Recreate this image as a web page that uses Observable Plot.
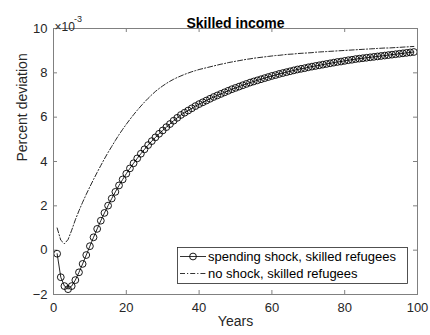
<!DOCTYPE html>
<html><head><meta charset="utf-8">
<script src="https://cdn.jsdelivr.net/npm/d3@7"></script>
<script src="https://cdn.jsdelivr.net/npm/@observablehq/plot@0.6"></script>
<style>body{margin:0;background:#fff} svg{display:block}</style>
</head><body><div id="chart"></div>
<script>
const title = "Skilled income";
const xLabel = "Years";
const yLabel = "Percent deviation";
const exponentBase = "\u00d710";
const exponentPower = "-3";
const xTicks = [0, 20, 40, 60, 80, 100];
const yTicks = [-2, 0, 2, 4, 6, 8, 10];
const seriesNames = ["spending shock, skilled refugees", "no shock, skilled refugees"];
const years = [1,2,3,4,5,6,7,8,9,10,11,12,13,14,15,16,17,18,19,20,21,22,23,24,25,26,27,28,29,30,31,32,33,34,35,36,37,38,39,40,41,42,43,44,45,46,47,48,49,50,51,52,53,54,55,56,57,58,59,60,61,62,63,64,65,66,67,68,69,70,71,72,73,74,75,76,77,78,79,80,81,82,83,84,85,86,87,88,89,90,91,92,93,94,95,96,97,98,99];
const spendingShock = [-0.16,-1.22,-1.62,-1.76,-1.62,-1.35,-1.00,-0.62,-0.22,0.18,0.58,0.96,1.33,1.68,2.01,2.33,2.63,2.92,3.19,3.45,3.69,3.92,4.14,4.35,4.55,4.74,4.92,5.09,5.25,5.40,5.55,5.69,5.84,5.97,6.10,6.20,6.30,6.40,6.50,6.59,6.67,6.75,6.83,6.91,6.98,7.05,7.12,7.19,7.26,7.32,7.38,7.44,7.50,7.56,7.61,7.66,7.71,7.76,7.81,7.86,7.90,7.95,7.99,8.03,8.07,8.11,8.15,8.18,8.21,8.25,8.28,8.31,8.34,8.37,8.40,8.43,8.46,8.49,8.51,8.54,8.57,8.59,8.62,8.64,8.66,8.68,8.70,8.72,8.74,8.76,8.78,8.80,8.82,8.84,8.86,8.88,8.90,8.92,8.94];
const noShock = [1.00,0.45,0.29,0.48,0.90,1.37,1.78,2.16,2.52,2.86,3.19,3.51,3.82,4.12,4.41,4.68,4.95,5.21,5.45,5.68,5.90,6.11,6.31,6.50,6.68,6.85,7.01,7.16,7.29,7.41,7.52,7.62,7.71,7.79,7.86,7.93,7.99,8.05,8.10,8.15,8.19,8.23,8.27,8.31,8.35,8.39,8.42,8.46,8.49,8.52,8.55,8.58,8.61,8.63,8.66,8.68,8.70,8.72,8.74,8.76,8.78,8.79,8.81,8.83,8.84,8.85,8.87,8.88,8.89,8.90,8.91,8.93,8.94,8.95,8.96,8.97,8.98,8.99,9.00,9.01,9.02,9.03,9.04,9.05,9.06,9.07,9.08,9.09,9.10,9.11,9.12,9.12,9.13,9.14,9.15,9.16,9.17,9.18,9.19];

const shockData = years.map((t, i) => ({t, v: spendingShock[i]}));
const noShockData = years.map((t, i) => ({t, v: noShock[i]}));

const FONT = "'Liberation Sans', Arial, Helvetica, sans-serif";
const TXT = "#262626";
const AX = "#808080";
const DASH = "5,2,1.2,2";
const W = 430, H = 335, ML = 53, MR = 13, MT = 28, MB = 41;
const FW = W - ML - MR, FH = H - MT - MB, TL = 4;

const plot = Plot.plot({
  width: W,
  height: H,
  marginLeft: ML,
  marginRight: MR,
  marginTop: MT,
  marginBottom: MB,
  style: {fontFamily: FONT, fontSize: "13px", color: TXT, background: "#fff"},
  x: {domain: [0, 100]},
  y: {domain: [-2, 10]},
  marks: [
    Plot.tickX(xTicks, {x: d => d, insetTop: FH - TL, stroke: AX}),
    Plot.tickX(xTicks, {x: d => d, insetBottom: FH - TL, stroke: AX}),
    Plot.tickY(yTicks, {y: d => d, insetRight: FW - TL, stroke: AX}),
    Plot.tickY(yTicks, {y: d => d, insetLeft: FW - TL, stroke: AX}),
    Plot.line(noShockData, {x: "t", y: "v", stroke: "#000", strokeWidth: 0.85, strokeDasharray: DASH}),
    Plot.line(shockData, {x: "t", y: "v", stroke: "#000", strokeWidth: 0.85}),
    Plot.dot(shockData, {x: "t", y: "v", r: 3.4, stroke: "#000", fill: "none", strokeWidth: 0.9}),
    Plot.frame({stroke: AX, strokeWidth: 1}),
    Plot.axisX({anchor: "bottom", ticks: xTicks, tickFormat: d3.format("d"), tickSize: 0, tickPadding: 8, fill: TXT, label: null}),
    Plot.axisY({anchor: "left", ticks: yTicks, tickFormat: d3.format("d"), tickSize: 0, tickPadding: 6, fill: TXT, label: null}),
    Plot.text([xLabel], {frameAnchor: "bottom", dy: 31, fontSize: 14, fill: TXT}),
    Plot.text([yLabel], {frameAnchor: "left", dx: -31, rotate: -90, fontSize: 14, fill: TXT}),
    Plot.text([title], {frameAnchor: "top", dy: -10, fontSize: 14, fontWeight: "bold", fill: "#000"}),
    Plot.text([exponentBase], {frameAnchor: "top-left", dx: 1, dy: -6.5, textAnchor: "start", fontSize: 12, fill: TXT}),
    Plot.text([exponentPower], {frameAnchor: "top-left", dx: 20.5, dy: -12.5, textAnchor: "start", fontSize: 9, fill: TXT})
  ]
});

// Legend (MATLAB style box in the lower right of the axes)
const xs = plot.scale("x"), ys = plot.scale("y");
const right = xs.range[1], bottom = ys.range[0];
const lw = 230, lh = 36;
const lx = right - 10 - lw, ly = bottom - 11 - lh;
const svg = d3.select(plot);
const g = svg.append("g").attr("font-family", FONT).attr("font-size", 13).attr("fill", "#000").attr("text-anchor", "start");
g.append("rect").attr("x", lx + 0.5).attr("y", ly + 0.5).attr("width", lw).attr("height", lh)
  .attr("fill", "#fff").attr("stroke", "#262626").attr("stroke-width", 0.8);
const rows = [ly + 9.5, ly + 26.5];
g.append("line").attr("x1", lx + 3).attr("x2", lx + 29).attr("y1", rows[0]).attr("y2", rows[0]).attr("stroke", "#000").attr("stroke-width", 0.8);
g.append("circle").attr("cx", lx + 16).attr("cy", rows[0]).attr("r", 3.4).attr("fill", "none").attr("stroke", "#000").attr("stroke-width", 0.9);
g.append("line").attr("x1", lx + 3).attr("x2", lx + 29).attr("y1", rows[1]).attr("y2", rows[1]).attr("stroke", "#000").attr("stroke-width", 0.8).attr("stroke-dasharray", DASH);
seriesNames.forEach((name, i) => {
  g.append("text").attr("x", lx + 31).attr("y", rows[i]).attr("dy", "0.35em").attr("text-anchor", "start").text(name);
});

document.getElementById("chart").appendChild(plot);
</script>
</body></html>
